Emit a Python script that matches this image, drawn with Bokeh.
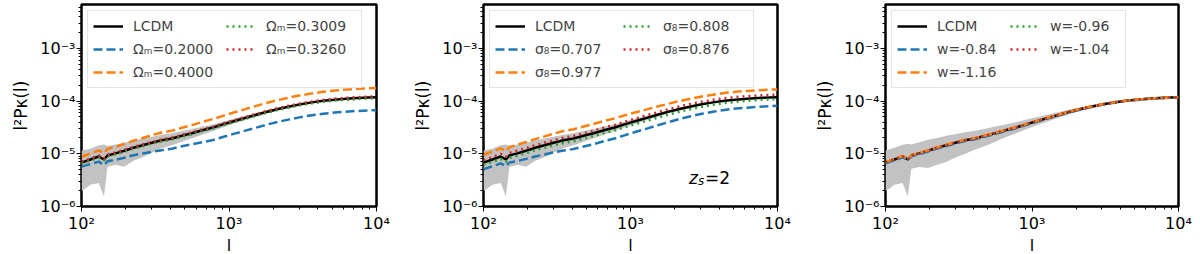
import math
from bokeh.plotting import figure
from bokeh.models import (Legend, LegendItem, Label, FixedTicker, CustomJSTickFormatter, Range1d)
from bokeh.layouts import row
from bokeh.embed import file_html
from bokeh.resources import INLINE

# ---------------- data ----------------
ell = [100, 115, 131, 142, 150, 170, 195, 225, 260, 300, 350, 410, 480, 560, 660, 780,
       920, 1090, 1290, 1530, 1820, 2160, 2570, 3060, 3650, 4350, 5200, 6200, 7400, 8800, 10000]

lcdm = [6.8e-6, 7.8e-6, 8.9e-6, 7.8e-6, 9.3e-6, 1.02e-5, 1.14e-5, 1.3e-5, 1.45e-5, 1.62e-5,
        1.8e-5, 1.95e-5, 2.2e-5, 2.45e-5, 2.8e-5, 3.15e-5, 3.65e-5, 4.2e-5, 4.8e-5, 5.5e-5,
        6.3e-5, 7.1e-5, 7.9e-5, 8.7e-5, 9.45e-5, 1.01e-4, 1.065e-4, 1.105e-4, 1.14e-4, 1.165e-4, 1.18e-4]

# panel 1: Omega_m
om_020 = [5.7e-6, 6.4e-6, 7.1e-6, 6.1e-6, 7.2e-6, 7.7e-6, 8.4e-6, 9.4e-6, 1.01e-5, 1.09e-5,
          1.17e-5, 1.25e-5, 1.39e-5, 1.51e-5, 1.66e-5, 1.83e-5, 2.1e-5, 2.41e-5, 2.75e-5, 3.14e-5,
          3.6e-5, 4.05e-5, 4.5e-5, 4.96e-5, 5.39e-5, 5.76e-5, 6.07e-5, 6.3e-5, 6.5e-5, 6.64e-5, 6.72e-5]
om_040 = [8.8e-6, 1.01e-5, 1.16e-5, 1.03e-5, 1.23e-5, 1.36e-5, 1.53e-5, 1.77e-5, 1.99e-5, 2.27e-5,
          2.53e-5, 2.75e-5, 3.12e-5, 3.5e-5, 4.03e-5, 4.57e-5, 5.3e-5, 6.13e-5, 7.03e-5, 8.1e-5,
          9.3e-5, 1.05e-4, 1.17e-4, 1.29e-4, 1.4e-4, 1.5e-4, 1.59e-4, 1.65e-4, 1.71e-4, 1.745e-4, 1.77e-4]
om_03009 = [6.5e-6, 7.5e-6, 8.5e-6, 7.5e-6, 8.9e-6, 9.8e-6, 1.09e-5, 1.25e-5, 1.39e-5, 1.56e-5,
            1.73e-5, 1.87e-5, 2.11e-5, 2.35e-5, 2.69e-5, 3.02e-5, 3.5e-5, 4.03e-5, 4.61e-5, 5.28e-5,
            6.05e-5, 6.82e-5, 7.58e-5, 8.35e-5, 9.07e-5, 9.7e-5, 1.022e-4, 1.061e-4, 1.094e-4, 1.118e-4, 1.133e-4]
om_03260 = [7.1e-6, 8.1e-6, 9.3e-6, 8.1e-6, 9.7e-6, 1.06e-5, 1.19e-5, 1.35e-5, 1.51e-5, 1.68e-5,
            1.87e-5, 2.03e-5, 2.29e-5, 2.55e-5, 2.91e-5, 3.28e-5, 3.8e-5, 4.37e-5, 4.99e-5, 5.72e-5,
            6.55e-5, 7.38e-5, 8.22e-5, 9.05e-5, 9.83e-5, 1.05e-4, 1.108e-4, 1.149e-4, 1.186e-4, 1.212e-4, 1.227e-4]

# panel 2: sigma_8
s8_0707 = [5.1e-6, 5.8e-6, 6.6e-6, 5.8e-6, 6.8e-6, 7.3e-6, 8.0e-6, 8.9e-6, 9.7e-6, 1.06e-5,
           1.15e-5, 1.23e-5, 1.37e-5, 1.52e-5, 1.74e-5, 1.95e-5, 2.26e-5, 2.62e-5, 3.0e-5, 3.47e-5,
           4.0e-5, 4.58e-5, 5.15e-5, 5.75e-5, 6.3e-5, 6.8e-5, 7.2e-5, 7.5e-5, 7.8e-5, 8.0e-5, 8.15e-5]
s8_0977 = [9.6e-6, 1.1e-5, 1.27e-5, 1.12e-5, 1.34e-5, 1.48e-5, 1.67e-5, 1.9e-5, 2.14e-5, 2.41e-5,
           2.7e-5, 2.93e-5, 3.3e-5, 3.68e-5, 4.2e-5, 4.7e-5, 5.4e-5, 6.15e-5, 6.95e-5, 7.9e-5,
           8.95e-5, 1.0e-4, 1.11e-4, 1.22e-4, 1.32e-4, 1.42e-4, 1.5e-4, 1.56e-4, 1.61e-4, 1.645e-4, 1.665e-4]
s8_0808 = [6.2e-6, 7.0e-6, 8.0e-6, 7.0e-6, 8.4e-6, 9.2e-6, 1.03e-5, 1.17e-5, 1.3e-5, 1.45e-5,
           1.6e-5, 1.73e-5, 1.94e-5, 2.16e-5, 2.46e-5, 2.77e-5, 3.21e-5, 3.7e-5, 4.22e-5, 4.84e-5,
           5.57e-5, 6.3e-5, 7.03e-5, 7.79e-5, 8.5e-5, 9.14e-5, 9.7e-5, 1.011e-4, 1.049e-4, 1.075e-4, 1.093e-4]
s8_0876 = [7.6e-6, 8.7e-6, 1.0e-5, 8.7e-6, 1.04e-5, 1.14e-5, 1.28e-5, 1.46e-5, 1.62e-5, 1.81e-5,
           2.02e-5, 2.18e-5, 2.46e-5, 2.74e-5, 3.14e-5, 3.53e-5, 4.09e-5, 4.7e-5, 5.38e-5, 6.16e-5,
           7.06e-5, 7.95e-5, 8.85e-5, 9.74e-5, 1.058e-4, 1.131e-4, 1.193e-4, 1.238e-4, 1.277e-4, 1.305e-4, 1.32e-4]

# panel 3: w
w_084 = [6.6e-6, 7.55e-6, 8.6e-6, 7.55e-6, 9.0e-6, 9.9e-6, 1.1e-5, 1.26e-5, 1.4e-5, 1.57e-5,
         1.74e-5, 1.89e-5, 2.13e-5, 2.38e-5, 2.72e-5, 3.06e-5, 3.55e-5, 4.09e-5, 4.69e-5, 5.38e-5,
         6.17e-5, 6.97e-5, 7.77e-5, 8.57e-5, 9.33e-5, 9.99e-5, 1.054e-4, 1.095e-4, 1.131e-4, 1.158e-4, 1.173e-4]
w_116 = [6.95e-6, 7.95e-6, 9.1e-6, 7.95e-6, 9.5e-6, 1.04e-5, 1.16e-5, 1.33e-5, 1.48e-5, 1.65e-5,
         1.84e-5, 1.99e-5, 2.24e-5, 2.49e-5, 2.85e-5, 3.2e-5, 3.71e-5, 4.26e-5, 4.87e-5, 5.57e-5,
         6.37e-5, 7.17e-5, 7.97e-5, 8.77e-5, 9.52e-5, 1.017e-4, 1.071e-4, 1.11e-4, 1.145e-4, 1.17e-4, 1.185e-4]
w_096 = [6.75e-6, 7.75e-6, 8.85e-6, 7.75e-6, 9.25e-6, 1.015e-5, 1.135e-5, 1.295e-5, 1.445e-5, 1.615e-5,
         1.795e-5, 1.945e-5, 2.195e-5, 2.445e-5, 2.795e-5, 3.145e-5, 3.645e-5, 4.195e-5, 4.795e-5, 5.495e-5,
         6.295e-5, 7.095e-5, 7.895e-5, 8.695e-5, 9.445e-5, 1.0095e-4, 1.0645e-4, 1.1045e-4, 1.1395e-4, 1.1645e-4, 1.1795e-4]
w_104 = [6.85e-6, 7.85e-6, 8.95e-6, 7.85e-6, 9.35e-6, 1.025e-5, 1.145e-5, 1.305e-5, 1.455e-5, 1.625e-5,
         1.805e-5, 1.955e-5, 2.205e-5, 2.455e-5, 2.805e-5, 3.155e-5, 3.655e-5, 4.205e-5, 4.805e-5, 5.505e-5,
         6.305e-5, 7.105e-5, 7.905e-5, 8.705e-5, 9.455e-5, 1.0105e-4, 1.0655e-4, 1.1055e-4, 1.1405e-4, 1.1655e-4, 1.1805e-4]

# error bands (LCDM scatter)
band12_lo = [1.95e-6, 2.6e-6, 2.8e-6, 1.55e-6, 5.6e-6, 6.2e-6, 5.7e-6, 7.4e-6, 8.6e-6, 1.05e-5,
             1.28e-5, 1.45e-5, 1.7e-5, 1.98e-5, 2.3e-5, 2.7e-5, 3.2e-5, 3.75e-5, 4.35e-5, 5.05e-5,
             5.85e-5, 6.65e-5, 7.5e-5, 8.3e-5, 9.1e-5, 9.8e-5, 1.04e-4, 1.085e-4, 1.125e-4, 1.155e-4, 1.172e-4]
band12_hi = [1.15e-5, 1.25e-5, 1.45e-5, 1.5e-5, 1.4e-5, 1.5e-5, 1.62e-5, 1.78e-5, 1.95e-5, 2.1e-5,
             2.3e-5, 2.45e-5, 2.7e-5, 2.95e-5, 3.3e-5, 3.6e-5, 4.1e-5, 4.65e-5, 5.25e-5, 5.95e-5,
             6.75e-5, 7.55e-5, 8.3e-5, 9.1e-5, 9.8e-5, 1.04e-4, 1.09e-4, 1.125e-4, 1.155e-4, 1.175e-4, 1.188e-4]
band3_lo = [1.95e-6, 2.6e-6, 2.8e-6, 1.55e-6, 5.2e-6, 5.6e-6, 5.4e-6, 6.2e-6, 7.0e-6, 8.5e-6,
            1.0e-5, 1.2e-5, 1.4e-5, 1.7e-5, 2.05e-5, 2.45e-5, 2.95e-5, 3.5e-5, 4.15e-5, 4.9e-5,
            5.7e-5, 6.55e-5, 7.35e-5, 8.2e-5, 9.0e-5, 9.75e-5, 1.035e-4, 1.08e-4, 1.12e-4, 1.152e-4, 1.17e-4]
band3_hi = [1.15e-5, 1.3e-5, 1.48e-5, 1.55e-5, 1.5e-5, 1.65e-5, 1.85e-5, 2.0e-5, 2.2e-5, 2.35e-5,
            2.55e-5, 2.75e-5, 3.0e-5, 3.3e-5, 3.6e-5, 3.95e-5, 4.45e-5, 5.0e-5, 5.55e-5, 6.2e-5,
            6.95e-5, 7.7e-5, 8.45e-5, 9.2e-5, 9.9e-5, 1.045e-4, 1.095e-4, 1.13e-4, 1.16e-4, 1.178e-4, 1.19e-4]

labels1 = ["LCDM", "Ωₘ=0.2000", "Ωₘ=0.4000", "Ωₘ=0.3009", "Ωₘ=0.3260"]
labels2 = ["LCDM", "σ₈=0.707", "σ₈=0.977", "σ₈=0.808", "σ₈=0.876"]
labels3 = ["LCDM", "w=-0.84", "w=-1.16", "w=-0.96", "w=-1.04"]

x_major = [1e2, 1e3, 1e4]
x_minor = [200, 300, 400, 500, 600, 700, 800, 900, 2000, 3000, 4000, 5000, 6000, 7000, 8000, 9000]
y_major = [1e-6, 1e-5, 1e-4, 1e-3]
y_minor = [2e-6, 3e-6, 4e-6, 5e-6, 6e-6, 7e-6, 8e-6, 9e-6, 2e-5, 3e-5, 4e-5, 5e-5, 6e-5, 7e-5, 8e-5, 9e-5,
           2e-4, 3e-4, 4e-4, 5e-4, 6e-4, 7e-4, 8e-4, 9e-4, 2e-3, 3e-3, 4e-3, 5e-3, 6e-3]
X_LO, X_HI = 1e2, 1e4
Y_LO, Y_HI = 1e-6, 6.8e-3

# ---------------- styling ----------------
FONT = "DejaVu Sans"
C_BLUE, C_ORANGE, C_GREEN, C_RED = "#1f77b4", "#ff7f0e", "#2ca02c", "#d62728"
LW = 2.5
FH = 202

fmt_code = """
const sup = {"-":"\u207b","0":"\u2070","1":"\u00b9","2":"\u00b2","3":"\u00b3","4":"\u2074","5":"\u2075","6":"\u2076","7":"\u2077","8":"\u2078","9":"\u2079"};
const e = Math.round(Math.log10(tick));
return "10" + String(e).split("").map(c => sup[c]).join("");
"""


def make_panel(series, labels, band_lo, band_hi, left, right, fw, lw_leg):
    p = figure(x_axis_type="log", y_axis_type="log",
               x_range=Range1d(X_LO, X_HI), y_range=Range1d(Y_LO, Y_HI),
               frame_width=fw, frame_height=FH,
               min_border_left=left, min_border_right=right, min_border_top=4, min_border_bottom=48,
               output_backend="svg", toolbar_location=None)
    p.xgrid.visible = False
    p.ygrid.visible = False
    p.outline_line_color = "black"
    p.outline_line_width = 2.5
    p.outline_line_alpha = 1.0
    p.background_fill_color = "white"
    p.border_fill_color = "white"

    p.varea(x=ell, y1=band_lo, y2=band_hi, fill_color="#c2c2c2", fill_alpha=1.0)

    styles = [("black", "solid"), (C_BLUE, "9 4"), (C_ORANGE, "9 4"), (C_GREEN, "2 4"), (C_RED, "2 4")]
    items = []
    for ys, lb, (col, dash) in zip(series, labels, styles):
        r = p.line(ell, ys, line_color=col, line_width=LW, line_dash=dash)
        items.append(LegendItem(label=lb, renderers=[r]))

    leg = Legend(items=items, ncols=2, location="top_left", margin=6,
                 padding=5, spacing=3, label_standoff=10,
                 glyph_width=30, glyph_height=20, label_height=20, label_width=lw_leg,
                 label_text_font=FONT, label_text_font_size="14px",
                 border_line_color="#cccccc", border_line_width=1,
                 background_fill_color="white", background_fill_alpha=0.8)
    p.add_layout(leg)

    p.xaxis.ticker = FixedTicker(ticks=x_major, minor_ticks=x_minor)
    p.yaxis.ticker = FixedTicker(ticks=y_major, minor_ticks=y_minor)
    for ax in (p.xaxis[0], p.yaxis[0]):
        ax.formatter = CustomJSTickFormatter(code=fmt_code)
        ax.axis_line_color = None
        ax.major_tick_line_color = "black"
        ax.minor_tick_line_color = "black"
        ax.major_tick_out = 5
        ax.major_tick_in = 0
        ax.minor_tick_out = 3
        ax.minor_tick_in = 0
        ax.major_label_text_font = FONT
        ax.major_label_text_font_size = "16px"
        ax.major_label_text_color = "black"
        ax.axis_label_text_font = FONT
        ax.axis_label_text_font_size = "17px"
        ax.axis_label_text_font_style = "normal"
        ax.axis_label_text_color = "black"
    p.xaxis.axis_label_text_font_size = "16px"
    p.xaxis.axis_label = "l"
    p.yaxis.axis_label = "l²Pκ(l)"
    p.xaxis.major_label_standoff = 2
    p.xaxis.axis_label_standoff = 0
    p.yaxis.major_label_standoff = 1
    p.yaxis.axis_label_standoff = 6
    return p


p1 = make_panel([lcdm, om_020, om_040, om_03009, om_03260], labels1, band12_lo, band12_hi, 81, 34, 295, 90)
p2 = make_panel([lcdm, s8_0707, s8_0977, s8_0808, s8_0876], labels2, band12_lo, band12_hi, 73, 35, 294, 85)
p3 = make_panel([lcdm, w_084, w_116, w_096, w_104], labels3, band3_lo, band3_hi, 73, 20, 293, 70)

# z_s = 2 annotation in panel 2
zx, zy = 2500, 3.5e-6
for txt, xo, yo, fs, style in [("z", 0, 0, "17px", "italic"), ("s", 9, -3, "12px", "italic"),
                               ("=2", 16, 0, "17px", "normal")]:
    p2.add_layout(Label(x=zx, y=zy, x_offset=xo, y_offset=yo, text=txt, text_font=FONT,
                        text_font_size=fs, text_font_style=style, text_baseline="alphabetic",
                        text_color="black"))

layout = row(p1, p2, p3, spacing=0)
open("out.html", "w").write(file_html(layout, INLINE))
